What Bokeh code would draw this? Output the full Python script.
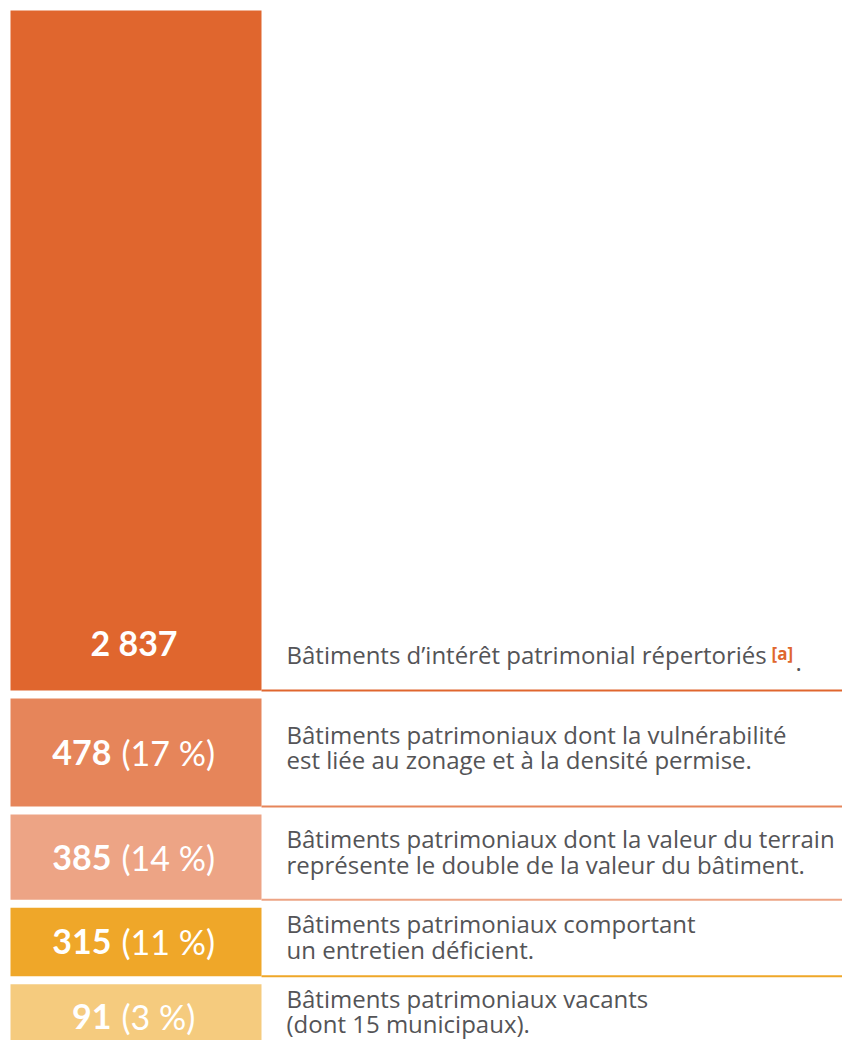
from bokeh.plotting import figure
from bokeh.models import Range1d, ColumnDataSource
from bokeh.core.properties import value
from bokeh.embed import file_html
from bokeh.resources import INLINE

# ---- data ----
values = [2837, 478, 385, 315, 91]
value_labels = ["2 837", "478", "385", "315", "91"]
pct_labels = ["", "(17 %)", "(14 %)", "(11 %)", "(3 %)"]
descriptions = [
    "Bâtiments d’intérêt patrimonial répertoriés",
    "Bâtiments patrimoniaux dont la vulnérabilité\nest liée au zonage et à la densité permise.",
    "Bâtiments patrimoniaux dont la valeur du terrain\nreprésente le double de la valeur du bâtiment.",
    "Bâtiments patrimoniaux comportant\nun entretien déficient.",
    "Bâtiments patrimoniaux vacants\n(dont 15 municipaux).",
]
colors = ["#E0662E", "#E6855A", "#EDA485", "#EFA729", "#F5CB7E"]
footnote = "[a]"

# ---- layout ----
W, H = 842, 1040
PX = 0.2425               # pixels per building
GAP = 8 / PX
MIN_SLOT = 300
PAD = 10 / PX
BAR_L, BAR_R = 10, 261
TEXT_X = 286
SPLIT = 111
DESC_FONT = "Open Sans"
DESC_COLOR = "#545457"

slots = [max(v, MIN_SLOT) for v in values]
tops, bottoms = [], []
acc = 0
for s in slots:
    tops.append(acc)
    bottoms.append(acc + s - GAP)
    acc += s

big = [(b - t) * PX > 200 for t, b in zip(tops, bottoms)]
label_y = [b - 48 / PX if g else (t + b) / 2 for t, b, g in zip(tops, bottoms, big)]
desc_y = [b - 36 / PX if g else (t + b) / 2 - 5.5 / PX for t, b, g in zip(tops, bottoms, big)]

src = ColumnDataSource(dict(
    top=tops, bottom=bottoms, color=colors, vlab=value_labels, pct=pct_labels,
    desc=descriptions, ly=label_y, dy=desc_y,
    lx=[(BAR_L + BAR_R) / 2 - 2 if g else SPLIT for g in big],
    la=["center" if g else "right" for g in big],
))

p = figure(width=W, height=H, x_range=Range1d(0, W),
           y_range=Range1d(start=H / PX - PAD, end=-PAD),
           output_backend="svg", toolbar_location=None, min_border=0)
p.axis.visible = False
p.grid.visible = False
p.outline_line_color = None
p.background_fill_color = "white"
p.border_fill_color = "white"

p.quad(left=BAR_L, right=BAR_R, top="top", bottom="bottom", fill_color="color",
       line_color=None, source=src)
p.segment(x0=BAR_R, x1=W, y0="bottom", y1="bottom", line_color="color",
          line_width=2, source=src)

p.text(x="lx", y="ly", text="vlab", text_align="la", text_baseline="middle",
       text_font=value("Lato"), text_font_style="bold", text_font_size="34px",
       text_color="white", source=src)
p.text(x=SPLIT + 10, y="ly", text="pct", text_align="left", text_baseline="middle",
       text_font=value("Lato"), text_font_size="34px", text_color="white", source=src)

p.text(x=TEXT_X, y="dy", text="desc", text_align="left", text_baseline="middle",
       text_line_height=0.78, text_font=value(DESC_FONT), text_font_size="24px",
       text_color=DESC_COLOR, source=src)

p.text(x=[771], y=[bottoms[0] - 37 / PX], text=[footnote], text_align="left",
       text_baseline="alphabetic", text_font=value("Open Sans"), text_font_style="bold",
       text_font_size="17px", text_color=colors[0])
p.text(x=[795], y=[bottoms[0] - 28 / PX], text=["."], text_align="left",
       text_baseline="alphabetic", text_font=value(DESC_FONT), text_font_size="24px",
       text_color=DESC_COLOR)

open("out.html", "w").write(file_html(p, INLINE))
